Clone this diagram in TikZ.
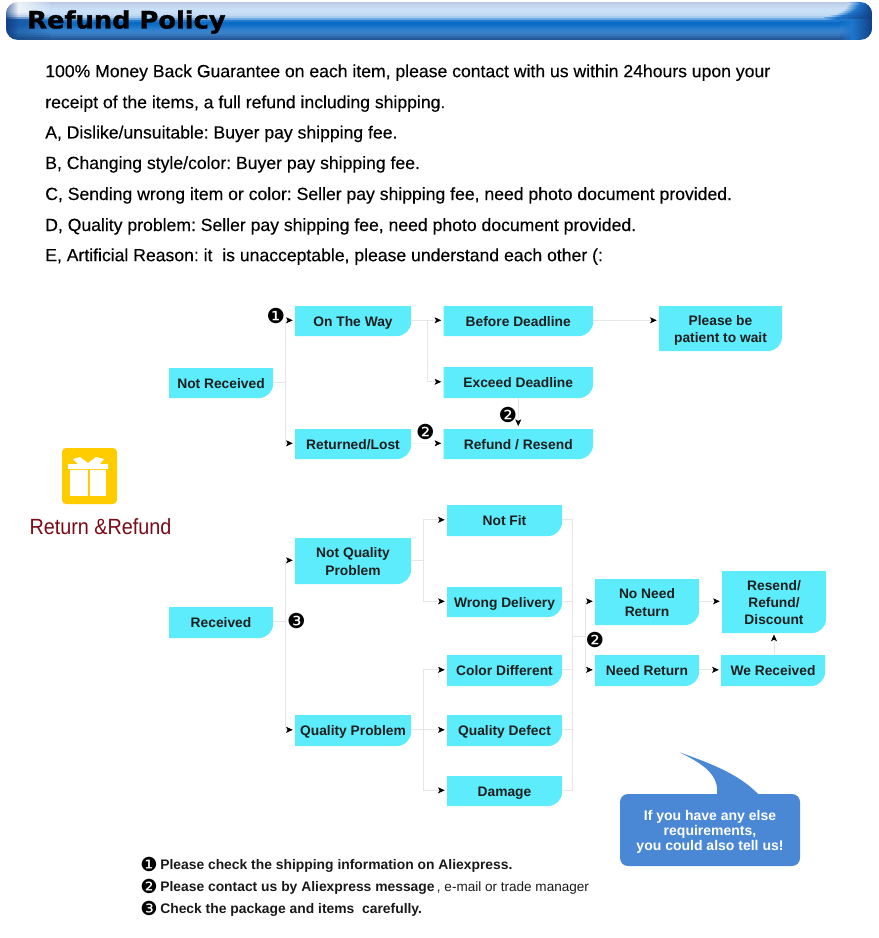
\documentclass[tikz,border=0pt]{standalone}
\usepackage{fontspec}
\setmainfont{Liberation Sans}
\newfontfamily\dejavu{DejaVu Sans}
\usetikzlibrary{arrows.meta,calc}
\AtBeginDocument{\frenchspacing}
\definecolor{boxcyan}{HTML}{5CECFC}
\definecolor{linegray}{HTML}{E6E6E6}
\definecolor{linefaint}{HTML}{F4F4F4}
\definecolor{callblue}{HTML}{4A88D6}
\definecolor{giftgold}{HTML}{FFCC00}
\definecolor{darkred}{HTML}{7A0A14}
\definecolor{bnBlue}{HTML}{1C76CC}
\definecolor{bnNavy}{HTML}{123F85}
\tikzset{
  x=0.75pt,y=-0.75pt,
  flowlabel/.style={inner sep=0pt,font=\fontsize{10.35}{12.8}\selectfont\bfseries,align=center,text=black!88},
  policyline/.style={anchor=base west,inner sep=0pt,font=\fontsize{13.2}{16}\selectfont\addfontfeatures{FakeBold=0.25},text=black},
  noteline/.style={anchor=base west,inner sep=0pt,font=\fontsize{10.4}{12}\selectfont\bfseries,text=black!90},
  badge/.style={inner sep=0pt,font=\dejavu\fontsize{15.5}{16}\selectfont,text=black},
  notebadge/.style={inner sep=0pt,font=\dejavu\fontsize{14.5}{15}\selectfont,text=black},
  link/.style={draw=linegray,line width=0.5pt},
  linkarrow/.style={link,-{Stealth[color=black,length=5pt,width=4.5pt,inset=1.2pt]},shorten >=1.5pt},
}
% x1 y1 x2 y2 name text
\newcommand{\flowbox}[6]{%
  \fill[boxcyan] (#1,#2) -- (#3,#2) -- (#3,#4-14) arc[start angle=0,end angle=-90,x radius=10.5pt,y radius=10.5pt] -- (#1,#4) -- cycle;
  \node[flowlabel,minimum width={(#3-#1)*0.75pt},minimum height={(#4-#2)*0.75pt}] (#5) at ({(#1+#3)/2},{(#2+#4)/2-0.7}) {\rule{0pt}{13.1pt}#6\strut};}
\begin{document}
\begin{tikzpicture}
\useasboundingbox (0,0) rectangle (878,938);
% banner
\begin{scope}
\clip[rounded corners=9pt] (6,2) rectangle (872,40);
\foreach \yy/\cc/\xs/\ee/\pp in {
 2/BBCBE3/848/5F80B0/EEF2F8, 4/C2D4EC/848/5F80B0/EEF2F8, 6/C6DAF2/846/5F80B0/EEF2F8,
 8/C8DEF6/845/5F80B0/EEF2F8, 10/CAE0F6/843/5F80B0/EEF2F8, 12/C8DEF6/840/5A7CAE/EEF2F8,
 14/BFD9F4/836/4A70A8/DDE6F2, 16/A9CDEF/830/3A64A0/C0D0E8, 18/6CA9E2/824/1A4A90/6F98CC,
 20/1F7ACF/840/123F85/1A5AA8, 22/0A6AC4/840/123F85/1A5AA8, 24/0E6EC6/840/123F85/1A5AA8,
 26/1C76CC/840/123F85/1A5AA8, 28/2A7ECE/840/123F85/1E60AC, 30/3581CC/840/123F85/2066AE,
 32/3A80C8/840/123F85/2468AE, 34/3575BA/840/123F85/2262A6, 36/2E68AA/840/123F85/1F5A9C,
 38/24589A/840/123F85/1A4F90}{
  \definecolor{rowc}{HTML}{\cc}\definecolor{rowe}{HTML}{\ee}\definecolor{rowp}{HTML}{\pp}
  \shade[left color=rowe,right color=rowp] (6,\yy) rectangle (18.3,\yy+2.4);
  \shade[left color=rowp,right color=rowc] (18,\yy) rectangle (50.3,\yy+2.4);
  \fill[rowc] (50,\yy) rectangle (\xs+0.3,\yy+2.4);
  \shade[left color=rowc,right color=bnBlue] (\xs,\yy) rectangle (\xs+12.3,\yy+2.4);
  \shade[left color=bnBlue,right color=bnNavy] (\xs+12,\yy) rectangle (872,\yy+2.4);
}
\end{scope}
\node[anchor=base west,inner sep=0pt,xscale=1.07,font=\dejavu\bfseries\fontsize{18}{20}\selectfont\addfontfeatures{FakeBold=1.2}] (title) at (27,28.5) {Refund Policy};
% policy text
\node[policyline] (p1) at (45,77.2) {100\% Money Back Guarantee on each item, please contact with us within 24hours upon your};
\node[policyline] (p2) at (45,108.2) {receipt of the items, a full refund including shipping.};
\node[policyline] (p3) at (45,138.5) {A, Dislike/unsuitable: Buyer pay shipping fee.};
\node[policyline] (p4) at (45,169) {B, Changing style/color: Buyer pay shipping fee.};
\node[policyline] (p5) at (45,200) {C, Sending wrong item or color: Seller pay shipping fee, need photo document provided.};
\node[policyline] (p6) at (45,231) {D, Quality problem: Seller pay shipping fee, need photo document provided.};
\node[policyline] (p7) at (45,261.2) {E, Artificial Reason: it\ \ is unacceptable, please understand each other (:};
% gift icon
\fill[giftgold,rounded corners=3pt] (62,448) rectangle (117,504);
\fill[white] (68,464) -- (78,464) -- (73,459) -- (80,457) -- (88,463) -- (96,457) -- (104,459) -- (100,464) -- (108,464) -- (108,469) -- (68,469) -- cycle;
\fill[white] (70,470) rectangle (87.5,496);
\fill[white] (89.5,470) rectangle (106,496);
\node[anchor=base,inner sep=0pt,font=\fontsize{16.5}{18}\selectfont,text=darkred,xscale=0.9] (rr) at (100.5,534) {Return \&Refund};
% boxes
\flowbox{169}{368}{273}{398}{nr}{Not Received}
\flowbox{295}{306}{411}{336}{otw}{On The Way}
\flowbox{295}{429}{411}{459}{rl}{Returned/Lost}
\flowbox{443.5}{306}{593}{336}{bd}{Before Deadline}
\flowbox{443.5}{367}{593}{398}{ed}{Exceed Deadline}
\flowbox{443.5}{429}{593}{459}{rr2}{Refund / Resend}
\flowbox{659}{306}{782}{351}{wait}{Please be\\patient to wait}
\flowbox{169}{607}{273}{638}{rc}{Received}
\flowbox{295}{538}{411}{584}{nq}{Not Quality\\Problem}
\flowbox{295}{715}{411}{746}{qp}{Quality Problem}
\flowbox{447}{505}{562}{536}{nf}{Not Fit}
\flowbox{447}{587}{562}{617}{wd}{Wrong Delivery}
\flowbox{447}{655}{562}{686}{cd}{Color Different}
\flowbox{447}{715}{562}{746}{qd}{Quality Defect}
\flowbox{447}{776}{562}{806}{dm}{Damage}
\flowbox{595}{579}{699}{625}{nnr}{No Need\\Return}
\flowbox{595}{655}{699}{686}{nr2}{Need Return}
\flowbox{722}{571}{826}{633}{rrd}{Resend/\\Refund/\\Discount}
\flowbox{721}{655}{825}{686}{wr}{We Received}
% connectors
\draw[linkarrow] (nr.east) -- ++(12.5,0) |- (otw.west);
\draw[linkarrow] (nr.east) -- ++(12.5,0) |- (rl.west);
\draw[linkarrow] (otw.east) -- (bd.west);
\draw[linkarrow] (otw.east) -- ++(16,0) |- (ed.west);
\draw[linkarrow] (bd.east) -- (bd.east -| wait.west);
\draw[linkarrow] (ed.south) -- (rr2.north);
\draw[linkarrow,draw=linefaint] (rl.east) -- (rr2.west);
\draw[linkarrow] (rc.east) -- ++(12.5,0) |- (nq.west);
\draw[linkarrow] (rc.east) -- ++(12.5,0) |- (qp.west);
\draw[linkarrow] (nq.east) -- ++(12,0) |- (nf.west);
\draw[linkarrow] (nq.east) -- ++(12,0) |- (wd.west);
\draw[linkarrow] (qp.east) -- ++(12,0) |- (cd.west);
\draw[linkarrow] (qp.east) -- (qd.west);
\draw[linkarrow] (qp.east) -- ++(12,0) |- (dm.west);
\coordinate (hub) at (572.7,636);
\draw[link] (nf.east) -| (hub);
\draw[link] (dm.east) -| (hub);
\draw[link] (wd.east) -- (wd.east -| hub);
\draw[link] (cd.east) -- (cd.east -| hub);
\draw[link] (qd.east) -- (qd.east -| hub);
\draw[linkarrow] (hub) -- ++(12.8,0) |- (nnr.west);
\draw[linkarrow] (hub) -- ++(12.8,0) |- (nr2.west);
\draw[linkarrow] (nnr.east) -- (nnr.east -| rrd.west);
\draw[linkarrow] (nr2.east) -- (wr.west);
\draw[linkarrow] (wr.north -| rrd.south) -- (rrd.south);
% badges
\node[badge] (b1) at (276,316) {❶};
\node[badge] (b2) at (508,415) {❷};
\node[badge] (b3) at (425.5,432) {❷};
\node[badge] (b4) at (296.5,621) {❸};
\node[badge] (b5) at (595,640) {❷};
% callout
\fill[callblue,rounded corners=6pt] (620,794) rectangle (800,866);
\fill[callblue] (680,752.5) .. controls (715,765) and (740,775) .. (759,795) -- (717,795) .. controls (719,775) and (705,765) .. (680,752.5) -- cycle;
\node[inner sep=0pt,align=center,text=white,font=\fontsize{10.5}{11.2}\selectfont\bfseries] (call) at (710,831.5) {If you have any else\\requirements,\\you could also tell us!};
% notes
\node[notebadge] (n1) at (149,864.5) {❶};
\node[noteline] (t1) at (160,869) {Please check the shipping information on Aliexpress.};
\node[notebadge] (n2) at (149,886) {❷};
\node[noteline] (t2) at (160,891) {Please contact us by Aliexpress message\,{\mdseries\fontsize{10.15}{12}\selectfont, e-mail or trade manager}};
\node[notebadge] (n3) at (149,908.5) {❸};
\node[noteline] (t3) at (160,913) {Check the package and items\ \ carefully.};
\end{tikzpicture}
\end{document}
